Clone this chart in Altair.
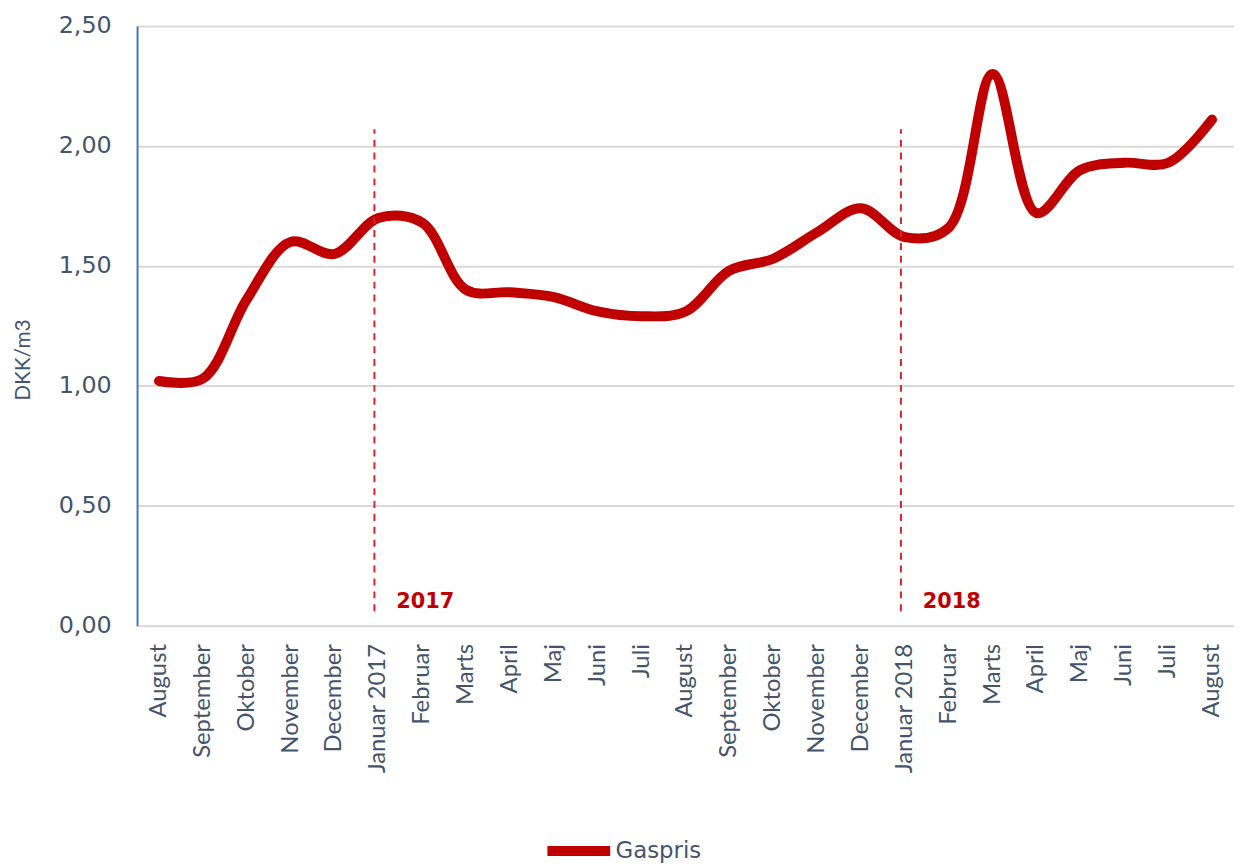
import altair as alt
import pandas as pd

months = ["August", "September", "Oktober", "November", "December", "Januar 2017",
          "Februar", "Marts", "April", "Maj", "Juni", "Juli",
          "August ", "September ", "Oktober ", "November ", "December ", "Januar 2018",
          "Februar ", "Marts ", "April ", "Maj ", "Juni ", "Juli ", "August  "]
gaspris = [1.02, 1.03, 1.36, 1.60, 1.55, 1.70,
           1.68, 1.40, 1.39, 1.37, 1.31, 1.29,
           1.31, 1.48, 1.53, 1.64, 1.74, 1.62,
           1.66, 2.30, 1.72, 1.90, 1.93, 1.93, 2.11]
series_name = "Gaspris"

year_months = ["Januar 2017", "Januar 2018"]
year_labels = ["2017", "2018"]
rule_low = 0.06
rule_high = 2.07
label_y = 0.10

df = pd.DataFrame({"month": months, "value": gaspris, "series": [series_name] * len(months)})
years_df = pd.DataFrame({"month": year_months, "label": year_labels,
                         "lo": [rule_low] * 2, "hi": [rule_high] * 2, "ty": [label_y] * 2})

FONT = "Lato"
WIDE = "DejaVu Sans"
TXT = "#44546A"
RED = "#C00000"

x_enc = alt.X("month:N", sort=months, title=None,
              scale=alt.Scale(paddingInner=0, paddingOuter=0),
              axis=alt.Axis(labelAngle=-90, labelFontSize=24, labelColor=TXT, labelFont=FONT,
                            ticks=False, domain=False, grid=False, labelPadding=18,
                            labelExpr="trim(datum.label)"))

line = alt.Chart(df).mark_line(
    interpolate="catmull-rom", strokeWidth=10, strokeCap="round", strokeJoin="round"
).encode(
    x=x_enc,
    y=alt.Y("value:Q", title="DKK/m3",
            scale=alt.Scale(domain=[0, 2.5], nice=False),
            axis=alt.Axis(values=[0, 0.5, 1.0, 1.5, 2.0, 2.5],
                          labelExpr="replace(format(datum.value, '.2f'), '.', ',')",
                          labelFontSize=24, labelColor=TXT, labelFont=WIDE, labelPadding=26,
                          ticks=False, domain=True, domainColor="#4472C4", domainWidth=2,
                          gridColor="#D9D9D9", gridWidth=2,
                          titleFontSize=21, titleColor=TXT, titleFont=FONT,
                          titleFontWeight="normal", titleX=-114, titleY=336,
                          titleAlign="center", titleBaseline="middle", titleAngle=270)),
    color=alt.Color("series:N", scale=alt.Scale(range=[RED]), title=None,
                    legend=alt.Legend(orient="none", legendX=408, legendY=794,
                                      symbolType="stroke", symbolStrokeWidth=10,
                                      symbolSize=4000, labelFontSize=23, labelColor=TXT,
                                      labelFont=WIDE, labelOffset=0))
)

rules = alt.Chart(years_df).mark_rule(
    color="#D7262B", strokeDash=[7, 6], strokeWidth=2, xOffset=-4
).encode(
    x=alt.X("month:N", sort=months),
    y="lo:Q",
    y2="hi:Q",
)

texts = alt.Chart(years_df).mark_text(
    align="left", baseline="middle", dx=18, fontSize=21, fontWeight="bold",
    font=WIDE, color="#C00000"
).encode(
    x=alt.X("month:N", sort=months),
    y="ty:Q",
    text="label:N",
)

chart = alt.layer(line, rules, texts).properties(
    width=1105, height=604,
    padding={"left": 5, "top": 3, "right": 0, "bottom": 0},
).configure_view(stroke=None).configure(background="white").configure_legend(
    symbolStrokeWidth=10
)

chart.save("out.html", embed_options={"renderer": "svg", "actions": False})
